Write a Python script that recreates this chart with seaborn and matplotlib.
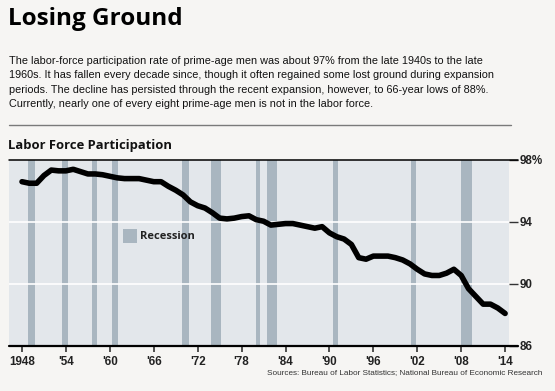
import matplotlib
matplotlib.use("Agg")
import matplotlib.pyplot as plt
import matplotlib.transforms as mtransforms
import seaborn as sns
import pandas as pd

# ---------------- data ----------------
years = list(range(1948, 2015))
participation = [
    96.6, 96.5, 96.5, 97.0, 97.35, 97.3, 97.3, 97.4, 97.25, 97.1,   # 1948-57
    97.1, 97.05, 96.95, 96.85, 96.8, 96.8, 96.8, 96.7, 96.6, 96.6,  # 1958-67
    96.3, 96.05, 95.75, 95.3, 95.05, 94.9, 94.6, 94.25, 94.2, 94.25, # 1968-77
    94.35, 94.4, 94.15, 94.05, 93.8, 93.85, 93.9, 93.9, 93.8, 93.7, # 1978-87
    93.6, 93.7, 93.3, 93.05, 92.9, 92.55, 91.7, 91.6, 91.8, 91.8,   # 1988-97
    91.8, 91.7, 91.55, 91.3, 90.95, 90.65, 90.55, 90.55, 90.7, 90.95, # 1998-2007
    90.55, 89.7, 89.2, 88.7, 88.7, 88.45, 88.1,                      # 2008-14
]
recession_start = [1948.83, 1953.5, 1957.58, 1960.25, 1969.92, 1973.83,
                   1980.0, 1981.5, 1990.5, 2001.17, 2007.92]
recession_end = [1949.75, 1954.33, 1958.25, 1961.08, 1970.83, 1975.17,
                 1980.5, 1982.83, 1991.17, 2001.83, 2009.5]
xtick_years = [1948, 1954, 1960, 1966, 1972, 1978, 1984, 1990, 1996, 2002, 2008, 2014]
xtick_labels = ["1948", "'54", "'60", "'66", "'72", "'78", "'84", "'90", "'96", "'02", "'08", "'14"]
ytick_values = [86, 90, 94, 98]
ytick_labels = ["86", "90", "94", "98%"]

title = "Losing Ground"
body_lines = [
    "The labor-force participation rate of prime-age men was about 97% from the late 1940s to the late",
    "1960s. It has fallen every decade since, though it often regained some lost ground during expansion",
    "periods. The decline has persisted through the recent expansion, however, to 66-year lows of 88%.",
    "Currently, nearly one of every eight prime-age men is not in the labor force.",
]
subtitle = "Labor Force Participation"
source = "Sources: Bureau of Labor Statistics; National Bureau of Economic Research"

df = pd.DataFrame({"year": years, "rate": participation})

# ---------------- style ----------------
W, H = 555, 391
BG = "#f6f5f3"
PLOT_BG = "#e3e7eb"
REC = "#a9b6c0"

sns.set_theme(style="white")
plt.rcParams["font.family"] = ["Liberation Sans", "DejaVu Sans"]

fig = plt.figure(figsize=(W / 100, H / 100), dpi=100, facecolor=BG)


def fx(x):
    return x / W


def fy(y):
    return 1 - y / H


# axes: x 9..509 px, y 160..346 px
ax = fig.add_axes([fx(9), fy(346), (509 - 9) / W, (346 - 160) / H])
ax.set_facecolor(PLOT_BG)

x0 = 1948 - 13 / 7.32
x1 = 1948 + 500 / 7.32 - 13 / 7.32
ax.set_xlim(x0, x1)
ax.set_ylim(86, 98)

for s, e in zip(recession_start, recession_end):
    ax.axvspan(s, e, color=REC, lw=0, zorder=1)

for v in ytick_values[1:3]:
    ax.axhline(v, color="white", lw=1.2, zorder=2)

sns.lineplot(data=df, x="year", y="rate", ax=ax, color="black", lw=4.0,
             zorder=5, solid_joinstyle="round", solid_capstyle="round")

for sp in ax.spines.values():
    sp.set_visible(False)

trans = mtransforms.blended_transform_factory(ax.transAxes, ax.transData)
ax.plot([0, 1.018], [98, 98], color="black", lw=1.1, transform=trans, clip_on=False, zorder=6)
ax.plot([0, 1.018], [86, 86], color="black", lw=1.6, transform=trans, clip_on=False, zorder=6)

ax.set_xticks(xtick_years)
ax.set_xticklabels(xtick_labels)
ax.tick_params(axis="x", direction="out", length=4.5, width=1.1, color="#222222",
               labelsize=8.4, pad=2.5, bottom=True)
for lab in ax.get_xticklabels():
    lab.set_fontweight("bold")
    lab.set_color("#222222")

ax.yaxis.tick_right()
ax.set_yticks(ytick_values)
ax.set_yticklabels(ytick_labels)
ax.tick_params(axis="y", direction="out", length=6.5, width=1.0, color="#333333",
               labelsize=8.4, pad=1.5, right=True, left=False)
for lab in ax.get_yticklabels():
    lab.set_fontweight("bold")
    lab.set_color("#222222")

ax.set_xlabel("")
ax.set_ylabel("")

# legend
ax.add_patch(plt.Rectangle((fx(123), fy(243)), fx(14), 14 / H, transform=fig.transFigure,
                           facecolor=REC, edgecolor="none", zorder=7))
fig.text(fx(140), fy(236.5), "Recession", fontsize=8.0, fontweight="bold", color="#222222",
         va="center", ha="left", family=["Open Sans", "DejaVu Sans"])

# texts
fig.text(fx(8), fy(19), title, fontsize=17.5, fontweight="bold", color="black",
         va="center", ha="left", family=["Open Sans", "DejaVu Sans"])
for i, line in enumerate(body_lines):
    fig.text(fx(9), fy(60.5 + 14.6 * i), line, fontsize=7.85, color="#111111",
             va="center", ha="left")
fig.add_artist(plt.Line2D([fx(9), fx(511)], [fy(125), fy(125)], transform=fig.transFigure,
                          color="#7a7a7a", lw=1.0))
fig.text(fx(8), fy(146), subtitle, fontsize=9.4, fontweight="bold", color="#111111",
         va="center", ha="left", family=["Open Sans", "DejaVu Sans"])
fig.text(fx(542), fy(373), source, fontsize=5.9, color="#333333", va="center", ha="right")

fig.savefig("out.png", dpi=100, facecolor=BG)
